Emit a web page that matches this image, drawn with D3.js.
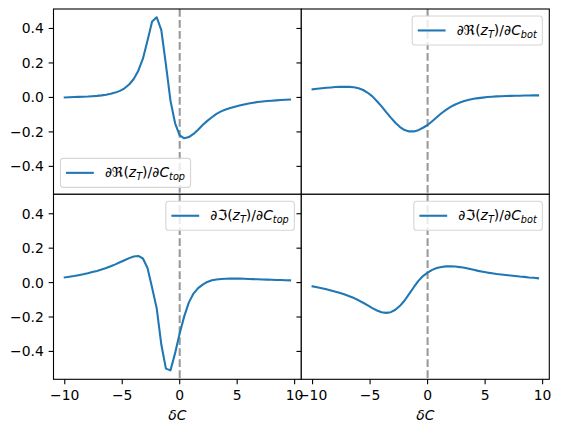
<!DOCTYPE html>
<html>
<head>
<meta charset="utf-8">
<script src="https://cdnjs.cloudflare.com/ajax/libs/d3/7.8.5/d3.min.js"></script>
<style>
  body { margin: 0; background: #fff; }
  text { font-family: "DejaVu Sans", sans-serif; fill: #000; }
</style>
</head>
<body>
<div id="chart"></div>
<script>

//data
var deltaC = [-10, -9.6, -9.2, -8.8, -8.4, -8, -7.6, -7.2, -6.8, -6.4,
              -6, -5.6, -5.2, -4.8, -4.4, -4, -3.6, -3.2, -2.8, -2.4,
              -2, -1.6, -1.2, -0.8, -0.4, 0, 0.4, 0.8, 1.2, 1.6,
              2, 2.4, 2.8, 3.2, 3.6, 4, 4.4, 4.8, 5.2, 5.6,
              6, 6.4, 6.8, 7.2, 7.6, 8, 8.4, 8.8, 9.2, 9.6];

var reTop = [0.000, 0.001, 0.002, 0.003, 0.004, 0.005, 0.007, 0.009, 0.012, 0.016,
             0.021, 0.028, 0.038, 0.053, 0.075, 0.107, 0.155, 0.225, 0.330, 0.440,
             0.465, 0.390, 0.190, -0.020, -0.150, -0.220, -0.237, -0.230, -0.212, -0.187,
             -0.160, -0.136, -0.115, -0.095, -0.081, -0.070, -0.061, -0.054, -0.047, -0.041,
             -0.035, -0.031, -0.027, -0.024, -0.021, -0.019, -0.017, -0.015, -0.013, -0.012];

var reBot = [0.047, 0.050, 0.053, 0.056, 0.058, 0.060, 0.061, 0.062, 0.061, 0.059,
             0.053, 0.043, 0.027, 0.006, -0.022, -0.052, -0.085, -0.117, -0.147, -0.172,
             -0.189, -0.197, -0.197, -0.190, -0.176, -0.160, -0.138, -0.115, -0.092, -0.072,
             -0.055, -0.041, -0.030, -0.021, -0.014, -0.008, -0.004, -0.001, 0.002, 0.004,
             0.006, 0.007, 0.008, 0.009, 0.010, 0.010, 0.011, 0.011, 0.012, 0.012];

var imTop = [0.030, 0.034, 0.038, 0.043, 0.048, 0.054, 0.061, 0.068, 0.076, 0.085,
             0.095, 0.106, 0.118, 0.130, 0.142, 0.152, 0.155, 0.140, 0.085, -0.030,
             -0.150, -0.360, -0.500, -0.510, -0.410, -0.295, -0.195, -0.115, -0.064, -0.032,
             -0.012, 0.004, 0.013, 0.018, 0.021, 0.022, 0.023, 0.023, 0.023, 0.022,
             0.021, 0.020, 0.019, 0.018, 0.017, 0.016, 0.015, 0.015, 0.014, 0.013];

var imBot = [-0.022, -0.027, -0.033, -0.039, -0.046, -0.053, -0.061, -0.069, -0.079, -0.090,
             -0.103, -0.117, -0.132, -0.148, -0.162, -0.172, -0.176, -0.172, -0.158, -0.135,
             -0.104, -0.066, -0.027, 0.010, 0.038, 0.058, 0.074, 0.085, 0.091, 0.094,
             0.094, 0.093, 0.090, 0.086, 0.080, 0.074, 0.068, 0.063, 0.058, 0.054,
             0.050, 0.047, 0.044, 0.041, 0.038, 0.035, 0.033, 0.030, 0.028, 0.025];

var xTicks = [-10, -5, 0, 5, 10];
var yTicks = [-0.4, -0.2, 0.0, 0.2, 0.4];
var xTickLabels = ["\u221210", "\u22125", "0", "5", "10"];
var yTickLabels = ["\u22120.4", "\u22120.2", "0.0", "0.2", "0.4"];

//panel edges
var W = 561, H = 432;
var colX = [53.5, 301.3, 549.3];
var rowY = [9, 194.3, 379.3];
var fs = 13.9;          // 10pt at 100 dpi
var tickLen = 4.86;
var blue = "#1f77b4";

var panels = [
  {row: 0, col: 0, values: reTop, part: "\u211C", wrt: "top", loc: "lower left"},
  {row: 0, col: 1, values: reBot, part: "\u211C", wrt: "bot", loc: "upper right"},
  {row: 1, col: 0, values: imTop, part: "\u2111", wrt: "top", loc: "upper right"},
  {row: 1, col: 1, values: imBot, part: "\u2111", wrt: "bot", loc: "upper right"}
];

var svg = d3.select("#chart")
            .append("svg")
            .attr("width", W)
            .attr("height", H);

panels.forEach(function(p, i) {
  var x0 = colX[p.col], x1 = colX[p.col + 1];
  var y0 = rowY[p.row], y1 = rowY[p.row + 1];

  var xScale = d3.scaleLinear().domain([-10.98, 10.58]).range([x0, x1]);
  var yScale = d3.scaleLinear().domain([-0.562, 0.513]).range([y1, y0]);

  var g = svg.append("g");

  //background
  g.append("rect")
    .attr("x", x0).attr("y", y0)
    .attr("width", x1 - x0).attr("height", y1 - y0)
    .style("fill", "#fff");

  g.append("clipPath").attr("id", "clip" + i)
    .append("rect")
    .attr("x", x0).attr("y", y0)
    .attr("width", x1 - x0).attr("height", y1 - y0);

  //dashed line at zero
  g.append("line")
    .attr("x1", xScale(0)).attr("x2", xScale(0))
    .attr("y1", y0).attr("y2", y1)
    .style("stroke", "#999")
    .style("stroke-width", 2.08)
    .style("stroke-dasharray", "7.7,3.3");

  //curve
  var line = d3.line()
               .x(function(d, j) { return xScale(deltaC[j]); })
               .y(function(d) { return yScale(d); });

  g.append("path")
    .datum(p.values)
    .attr("d", line)
    .attr("clip-path", "url(#clip" + i + ")")
    .style("fill", "none")
    .style("stroke", blue)
    .style("stroke-width", 2.08)
    .style("stroke-linejoin", "round")
    .style("stroke-linecap", "square");

  //legend
  var lg = g.append("g");
  var box = lg.append("rect")
              .attr("rx", 2.8).attr("ry", 2.8)
              .style("fill", "#fff").style("fill-opacity", 0.8)
              .style("stroke", "#d6d6d6").style("stroke-width", 1.1);
  var handle = lg.append("line")
                 .style("stroke", blue).style("stroke-width", 2.08);
  var label = lg.append("text").style("font-size", fs + "px");
  label.append("tspan").text("\u2202" + p.part + "(");
  label.append("tspan").style("font-style", "italic").text("z");
  label.append("tspan").style("font-style", "italic").style("font-size", (fs * 0.7) + "px")
       .attr("dy", 3).text("T");
  label.append("tspan").attr("dy", -3).text(")/\u2202");
  label.append("tspan").style("font-style", "italic").text("C");
  label.append("tspan").style("font-style", "italic").style("font-size", (fs * 0.7) + "px")
       .attr("dy", 3).text(p.wrt);

  var tw = label.node().getComputedTextLength();
  var pad = 0.4 * fs, hl = 2 * fs, htp = 0.8 * fs, bap = 0.5 * fs;
  var bw = 2 * pad + hl + htp + tw, bh = 29;
  var bx, by;
  if (p.loc == "lower left") { bx = x0 + bap; by = y1 - bap - bh; }
  else { bx = x1 - bap - bw; by = y0 + bap; }
  box.attr("x", bx).attr("y", by).attr("width", bw).attr("height", bh);
  handle.attr("x1", bx + pad).attr("x2", bx + pad + hl)
        .attr("y1", by + bh / 2).attr("y2", by + bh / 2);
  label.attr("x", bx + pad + hl + htp).attr("y", by + bh / 2 + 4.5);

  //spines
  g.append("rect")
    .attr("x", x0).attr("y", y0)
    .attr("width", x1 - x0).attr("height", y1 - y0)
    .style("fill", "none")
    .style("stroke", "#000")
    .style("stroke-width", 1.1);

  //y ticks
  g.selectAll(".yt" + i)
    .data(yTicks)
    .enter()
    .append("line")
    .attr("x1", x0 - tickLen).attr("x2", x0)
    .attr("y1", function(d) { return yScale(d); })
    .attr("y2", function(d) { return yScale(d); })
    .style("stroke", "#000").style("stroke-width", 1.1);

  if (p.col == 0) {
    g.selectAll(".yl" + i)
      .data(yTicks)
      .enter()
      .append("text")
      .attr("x", x0 - 2 * tickLen)
      .attr("y", function(d) { return yScale(d) + 5; })
      .style("text-anchor", "end")
      .style("font-size", fs + "px")
      .text(function(d, j) { return yTickLabels[j]; });
  }

  //x ticks
  g.selectAll(".xt" + i)
    .data(xTicks)
    .enter()
    .append("line")
    .attr("x1", function(d) { return xScale(d); })
    .attr("x2", function(d) { return xScale(d); })
    .attr("y1", y1).attr("y2", y1 + tickLen)
    .style("stroke", "#000").style("stroke-width", 1.1);

  if (p.row == 1) {
    g.selectAll(".xl" + i)
      .data(xTicks)
      .enter()
      .append("text")
      .attr("x", function(d) { return xScale(d); })
      .attr("y", y1 + 2 * tickLen + 10.5)
      .style("text-anchor", "middle")
      .style("font-size", fs + "px")
      .text(function(d, j) { return xTickLabels[j]; });

    //x axis label
    g.append("text")
      .attr("x", (x0 + x1) / 2)
      .attr("y", 420)
      .style("text-anchor", "middle")
      .style("font-size", fs + "px")
      .style("font-style", "italic")
      .text("\u03B4C");
  }
});

</script>
</body>
</html>
